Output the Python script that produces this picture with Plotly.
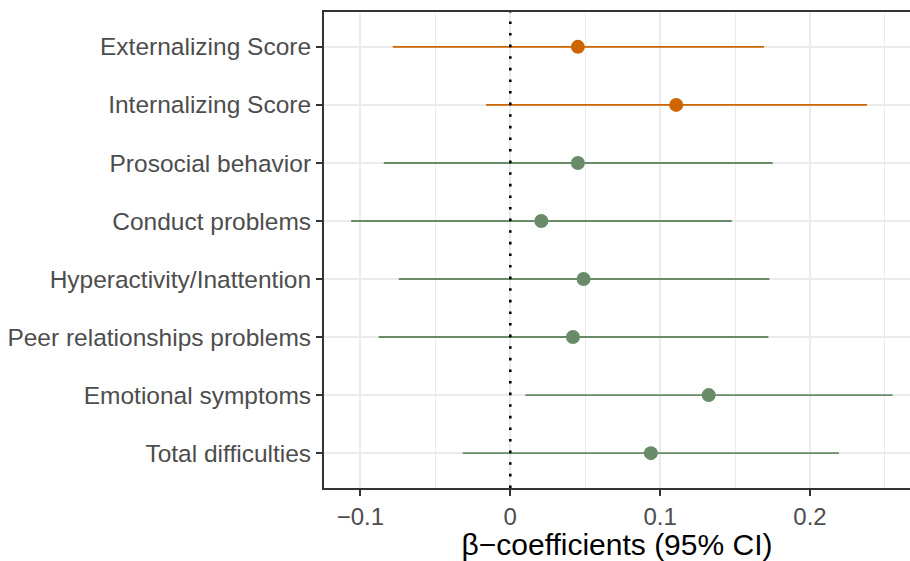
import plotly.graph_objects as go

# Data (top to bottom as displayed)
outcomes = [
    "Externalizing Score",
    "Internalizing Score",
    "Prosocial behavior",
    "Conduct problems",
    "Hyperactivity/Inattention",
    "Peer relationships problems",
    "Emotional symptoms",
    "Total difficulties",
]
estimate = [0.0451, 0.1107, 0.0451, 0.0207, 0.0489, 0.0418, 0.1324, 0.0938]
ci_low = [-0.0784, -0.0162, -0.0844, -0.1062, -0.0744, -0.0878, 0.0100, -0.0318]
ci_high = [0.1693, 0.2380, 0.1751, 0.1478, 0.1729, 0.1722, 0.2551, 0.2193]
group = ["Score", "Score", "Sub", "Sub", "Sub", "Sub", "Sub", "Sub"]

x_ticks = [-0.1, 0, 0.1, 0.2]
x_tick_labels = ["\u22120.1", "0", "0.1", "0.2"]

colors = {"Score": "#CD6600", "Sub": "#698B69"}

n = len(outcomes)
ypos = [n - i for i in range(n)]

fig = go.Figure()
for g in ["Sub", "Score"]:
    idx = [i for i in range(n) if group[i] == g]
    fig.add_trace(go.Scatter(
        x=[estimate[i] for i in idx],
        y=[ypos[i] for i in idx],
        mode="markers",
        marker=dict(color=colors[g], size=14, line=dict(width=0)),
        error_x=dict(
            type="data", symmetric=False,
            array=[ci_high[i] - estimate[i] for i in idx],
            arrayminus=[estimate[i] - ci_low[i] for i in idx],
            color=colors[g], thickness=1.9, width=0,
        ),
        showlegend=False,
        hoverinfo="skip",
    ))

fig.add_vline(x=0, line=dict(color="black", width=2.6, dash="2.6px,9px"), layer="above")

font_family = "Liberation Sans, Arial, Helvetica, sans-serif"

fig.update_layout(
    width=910, height=561,
    margin=dict(l=324, r=0, t=12, b=73),
    plot_bgcolor="white", paper_bgcolor="white",
    font=dict(family=font_family, color="#4D4D4D", size=24),
    xaxis=dict(
        range=[-0.1243, 0.2667],
        tickvals=x_ticks, ticktext=x_tick_labels,
        showgrid=True, gridcolor="#EBEBEB", gridwidth=2,
        minor=dict(dtick=0.05, tick0=0.05, showgrid=True, gridcolor="#EBEBEB", gridwidth=1, ticks=""),
        showline=True, linecolor="#333333", linewidth=2, mirror=True,
        ticks="outside", ticklen=6, tickwidth=2, tickcolor="#333333",
        zeroline=False,
        tickfont=dict(size=24, color="#4D4D4D"),
        title=dict(text="\u03b2\u2212coefficients (95% CI)", font=dict(size=30, color="black"), standoff=4),
    ),
    yaxis=dict(
        range=[0.4, n + 0.6],
        tickvals=ypos, ticktext=outcomes,
        showgrid=True, gridcolor="#EBEBEB", gridwidth=2,
        showline=True, linecolor="#333333", linewidth=2,
        ticks="outside", ticklen=6, tickwidth=2, tickcolor="#333333",
        zeroline=False,
        tickfont=dict(size=24.5, color="#4D4D4D"),
    ),
)

fig.write_html(
    "out.html",
    config={"displayModeBar": False},
    post_script="document.body.style.margin='0';document.body.style.overflow='hidden';",
)
